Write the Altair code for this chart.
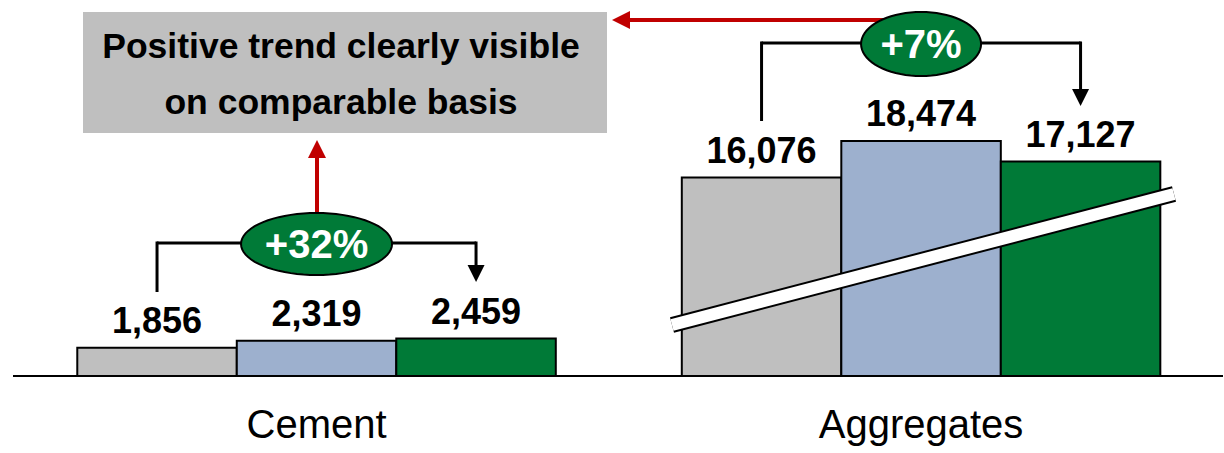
import altair as alt
import numpy as np
import pandas as pd

# ---------------- data ----------------
categories = ["Cement", "Aggregates"]
series = ["Period 1", "Period 2", "Period 3 (comparable basis)"]
cement_values = [1856, 2319, 2459]
aggregates_values = [16076, 18474, 17127]
changes = ["+32%", "+7%"]
note_lines = ["Positive trend clearly visible", "on comparable basis"]
bar_colors = ["#BFBFBF", "#9DB0CE", "#007A37"]

# ---------------- layout constants ----------------
W, H = 1210, 376          # plot area
PAD = {"left": 13, "top": 0, "right": 1, "bottom": 77}
GROUP_STEP = 3.79         # distance (in bar widths) between first bars of groups
BREAK_OFFSET = 3040       # amount cut out of the aggregates bars by the axis break
X_DOMAIN = [-0.903, 6.683]
Y_DOMAIN = [0, 24700]

values = {"Cement": cement_values, "Aggregates": aggregates_values}
rows = []
for gi, cat in enumerate(categories):
    for si, s in enumerate(series):
        v = values[cat][si]
        slot = gi * GROUP_STEP + si
        rows.append({
            "category": cat, "series": s, "value": v,
            "slot": slot, "x0": slot - 0.5, "x1": slot + 0.5,
            "display": v - (BREAK_OFFSET if cat == "Aggregates" else 0),
            "label": f"{v:,}",
        })
df = pd.DataFrame(rows)

groups = pd.DataFrame({
    "category": categories,
    "center": [gi * GROUP_STEP + 1 for gi in range(len(categories))],
    "first": [gi * GROUP_STEP for gi in range(len(categories))],
    "last": [gi * GROUP_STEP + 2 for gi in range(len(categories))],
    "change": changes,
})

xs = alt.Scale(domain=X_DOMAIN, nice=False, zero=False)
ys = alt.Scale(domain=Y_DOMAIN, nice=False)
one = pd.DataFrame({"k": [0]})


def px(x):
    return x - PAD["left"]


def ellipse_path(ratio, n=72):
    t = np.linspace(0, 2 * np.pi, n, endpoint=False)
    pts = [f"{np.cos(a):.4f} {ratio * np.sin(a):.4f}" for a in t]
    return "M " + " L ".join(pts) + " Z"


TRI_DOWN = "M -1 -1 L 1 -1 L 0 1 Z"
TRI_UP = "M 0 -1 L 1 1 L -1 1 Z"
TRI_LEFT = "M -1 0 L 1 -1 L 1 1 Z"
RED = "#C00000"
GREEN = "#007A37"
FONT = "Liberation Sans"

layers = []

# note box
layers.append(alt.Chart(one).mark_rect(color="#BFBFBF").encode(
    x=alt.value(px(83)), x2=alt.value(px(607)), y=alt.value(12), y2=alt.value(133)))
for line, yb in zip(note_lines, [58, 114]):
    layers.append(alt.Chart(one).mark_text(
        font=FONT, fontSize=35.5, fontWeight="bold", color="black",
        align="center", baseline="alphabetic").encode(
        x=alt.value(px(341)), y=alt.value(yb), text=alt.value(line)))

# bars
bars = alt.Chart(df).mark_bar(opacity=1, fillOpacity=1).encode(
    x=alt.X("x0:Q", scale=xs, axis=None),
    x2="x1:Q",
    y=alt.Y("display:Q", scale=ys, axis=None),
    y2=alt.datum(0),
    fill=alt.Fill("series:N", scale=alt.Scale(domain=series, range=bar_colors), legend=None),
    stroke=alt.value("black"),
    strokeWidth=alt.value(2),
)
layers.append(bars)

# axis break band across the aggregates bars
for sw, col in [(16, "black"), (12, "white")]:
    layers.append(alt.Chart(one).mark_rule(color=col, strokeWidth=sw, strokeCap="butt").encode(
        x=alt.value(px(672)), y=alt.value(325), x2=alt.value(px(1174)), y2=alt.value(194)))

# baseline
layers.append(alt.Chart(one).mark_rule(color="black", strokeWidth=2).encode(
    x=alt.value(0), x2=alt.value(W), y=alt.value(H)))

# value labels
layers.append(alt.Chart(df).mark_text(
    font=FONT, fontSize=36, fontWeight="bold", color="black",
    align="center", baseline="alphabetic", dy=-15).encode(
    x=alt.X("slot:Q", scale=xs), y=alt.Y("display:Q", scale=ys), text="label:N"))

# category labels
layers.append(alt.Chart(groups).mark_text(
    font=FONT, fontSize=40, color="black", align="center", baseline="alphabetic").encode(
    x=alt.X("center:Q", scale=xs), y=alt.value(438), text="category:N"))

# red arrows
layers.append(alt.Chart(one).mark_rule(color=RED, strokeWidth=4).encode(
    x=alt.value(px(625)), x2=alt.value(px(900)), y=alt.value(20)))
layers.append(alt.Chart(one).mark_point(shape=TRI_LEFT, size=324, filled=True, color=RED, opacity=1).encode(
    x=alt.value(px(621)), y=alt.value(20)))
layers.append(alt.Chart(one).mark_rule(color=RED, strokeWidth=4).encode(
    x=alt.value(px(317)), y=alt.value(152), y2=alt.value(230)))
layers.append(alt.Chart(one).mark_point(shape=TRI_UP, size=324, filled=True, color=RED, opacity=1).encode(
    x=alt.value(px(317)), y=alt.value(149)))

# brackets with change ellipses
bracket_layout = {
    "Cement": {"line_y": 243, "left_bottom": 292, "tip": 282, "rx": 75.5, "ry": 31},
    "Aggregates": {"line_y": 43, "left_bottom": 121, "tip": 106, "rx": 60, "ry": 32},
}
for _, g in groups.iterrows():
    L = bracket_layout[g["category"]]
    gd = pd.DataFrame([g])
    layers.append(alt.Chart(gd).mark_rule(color="black", strokeWidth=3).encode(
        x=alt.X("first:Q", scale=xs), x2="last:Q", y=alt.value(L["line_y"])))
    layers.append(alt.Chart(gd).mark_rule(color="black", strokeWidth=3).encode(
        x=alt.X("first:Q", scale=xs), y=alt.value(L["line_y"] - 1.5), y2=alt.value(L["left_bottom"])))
    layers.append(alt.Chart(gd).mark_rule(color="black", strokeWidth=3).encode(
        x=alt.X("last:Q", scale=xs), y=alt.value(L["line_y"] - 1.5), y2=alt.value(L["tip"] - 10)))
    layers.append(alt.Chart(gd).mark_point(shape=TRI_DOWN, size=289, filled=True, color="black", opacity=1).encode(
        x=alt.X("last:Q", scale=xs), y=alt.value(L["tip"] - 8.5)))
    layers.append(alt.Chart(gd).mark_point(
        shape=ellipse_path(L["ry"] / L["rx"]), size=(2 * L["rx"]) ** 2,
        filled=True, fill=GREEN, stroke="black", strokeWidth=2, opacity=1).encode(
        x=alt.X("center:Q", scale=xs), y=alt.value(L["line_y"] + 1)))
    layers.append(alt.Chart(gd).mark_text(
        font=FONT, fontSize=40, fontWeight="bold", color="white",
        align="center", baseline="alphabetic").encode(
        x=alt.X("center:Q", scale=xs), y=alt.value(L["line_y"] + 15), text="change:N"))

chart = alt.layer(*layers).properties(
    width=W, height=H,
    autosize=alt.AutoSizeParams(type="none"),
    padding=PAD,
    background="white",
).configure_view(stroke=None)

chart.save("out.html", embed_options={"renderer": "svg", "actions": False})
